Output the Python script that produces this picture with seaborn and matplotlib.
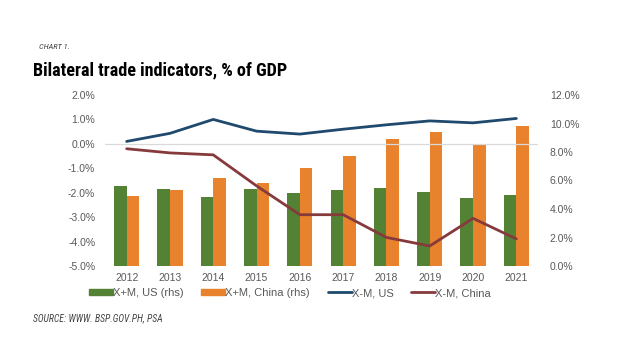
import numpy as np
import pandas as pd
import matplotlib
matplotlib.use("Agg")
import matplotlib.pyplot as plt
from matplotlib import font_manager as fm
from matplotlib.patches import Patch
from matplotlib.lines import Line2D
import seaborn as sns

years = ["2012", "2013", "2014", "2015", "2016", "2017", "2018", "2019", "2020", "2021"]
xm_us = [5.6, 5.4, 4.85, 5.4, 5.15, 5.35, 5.45, 5.2, 4.75, 5.0]          # X+M, US (rhs)
xm_china = [4.9, 5.3, 6.2, 5.8, 6.9, 7.75, 8.9, 9.4, 8.55, 9.8]           # X+M, China (rhs)
bal_us = [0.1, 0.43, 1.0, 0.52, 0.4, 0.6, 0.78, 0.94, 0.86, 1.04]         # X-M, US
bal_china = [-0.2, -0.37, -0.45, -1.72, -2.9, -2.9, -3.83, -4.18, -3.05, -3.89]  # X-M, China

GREEN = "#548235"
ORANGE = "#E9822C"
NAVY = "#1F4A6E"
MAROON = "#863A3C"
GRAY = "#595959"

sns.set_theme(style="white")
plt.rcParams["font.family"] = ["Liberation Sans", "DejaVu Sans"]


def pick_condensed(weight, style):
    cands = [("Roboto Condensed", "normal"), ("Liberation Sans Narrow", "normal"),
             ("Open Sans Condensed", "normal"), ("DejaVu Sans", "condensed"),
             ("Open Sans", "condensed"), ("Noto Sans", "condensed")]
    for fam, stretch in cands:
        try:
            fp = fm.FontProperties(family=fam, weight=weight, style=style, stretch=stretch)
            path = fm.findfont(fp, fallback_to_default=False)
            low = path.lower()
            if "condensed" in low or "narrow" in low:
                return fm.FontProperties(fname=path)
        except Exception:
            pass
    return fm.FontProperties(family="Liberation Sans", weight=weight, style=style)


fig = plt.figure(figsize=(6.4, 3.6), dpi=100)
ax = fig.add_axes([105/640, 1-266/360, (538-105)/640, (266-95)/360])

bars = pd.DataFrame({
    "year": years * 2,
    "value": xm_us + xm_china,
    "series": ["X+M, US (rhs)"] * len(years) + ["X+M, China (rhs)"] * len(years),
})
sns.barplot(data=bars, x="year", y="value", hue="series",
            palette=[GREEN, ORANGE], width=0.58, ax=ax, saturation=1,
            linewidth=0, legend=False)
ax.set_xlim(-0.5, len(years) - 0.5)
ax.set_xlabel("")
ax.set_ylabel("")

axl = ax.twinx()
lines = pd.DataFrame({
    "pos": list(range(len(years))) * 2,
    "value": bal_us + bal_china,
    "series": ["X-M, US"] * len(years) + ["X-M, China"] * len(years),
})
axl.axhline(0, color="#D9D9D9", lw=0.9, zorder=0)
sns.lineplot(data=lines, x="pos", y="value", hue="series",
             palette=[NAVY, MAROON], lw=2.0, ax=axl, legend=False)
axl.set_xlim(-0.5, len(years) - 0.5)
axl.set_xlabel("")
axl.set_ylabel("")

# bars on right axis, lines on left axis
ax.set_ylim(0, 12)
rt = np.arange(0, 12.1, 2)
ax.set_yticks(rt)
ax.set_yticklabels([f"{v:.1f}%" for v in rt])
lt = np.arange(-5, 2.1, 1)
axl.set_ylim(-5, 2)
axl.set_yticks(lt)
axl.set_yticklabels([f"{v:.1f}%" for v in lt])
ax.yaxis.tick_right()
axl.yaxis.tick_left()

for a in (ax, axl):
    for s in a.spines.values():
        s.set_visible(False)
    a.tick_params(axis="both", length=0, labelsize=7.5, labelcolor=GRAY)
ax.tick_params(axis="y", pad=8.5, labelright=True, labelleft=False)
axl.tick_params(axis="y", pad=7, labelleft=True, labelright=False)
ax.tick_params(axis="x", pad=5)

handles = [Patch(color=GREEN), Patch(color=ORANGE),
           Line2D([], [], color=NAVY, lw=2), Line2D([], [], color=MAROON, lw=2)]
labels = ["X+M, US (rhs)", "X+M, China (rhs)", "X-M, US", "X-M, China"]
leg = fig.legend(handles, labels, loc="center", bbox_to_anchor=(290/640, 1-293/360),
                 ncol=4, frameon=False, fontsize=8, handlelength=2.15,
                 handleheight=0.55, handletextpad=0.0, columnspacing=1.6,
                 labelcolor=GRAY)

fp_chart = pick_condensed("normal", "italic")
fp_chart.set_style("italic")
fp_chart.set_size(6)
fp_src = pick_condensed("normal", "italic")
fp_src.set_style("italic")
fp_src.set_size(7)
fp_title = pick_condensed("bold", "normal")
fp_title.set_weight("bold")
fp_title.set_size(15)

fig.text(39/640, 1-47/360, "CHART 1.", fontproperties=fp_chart, color="#444444",
         va="center", ha="left")
title = fig.text(33/640, 1-75/360, "Bilateral trade indicators, % of GDP",
                 fontproperties=fp_title, color="black", va="baseline", ha="left")
src = fig.text(33/640, 1-318/360, "SOURCE: WWW. BSP.GOV.PH, PSA", fontproperties=fp_src,
               color="#444444", va="center", ha="left")

# fit title width to the reference (~254 px)
renderer = fig.canvas.get_renderer()
w = title.get_window_extent(renderer).width
title.set_fontsize(15 * 254 / w)

fig.savefig("out.png", dpi=100, facecolor="white")
